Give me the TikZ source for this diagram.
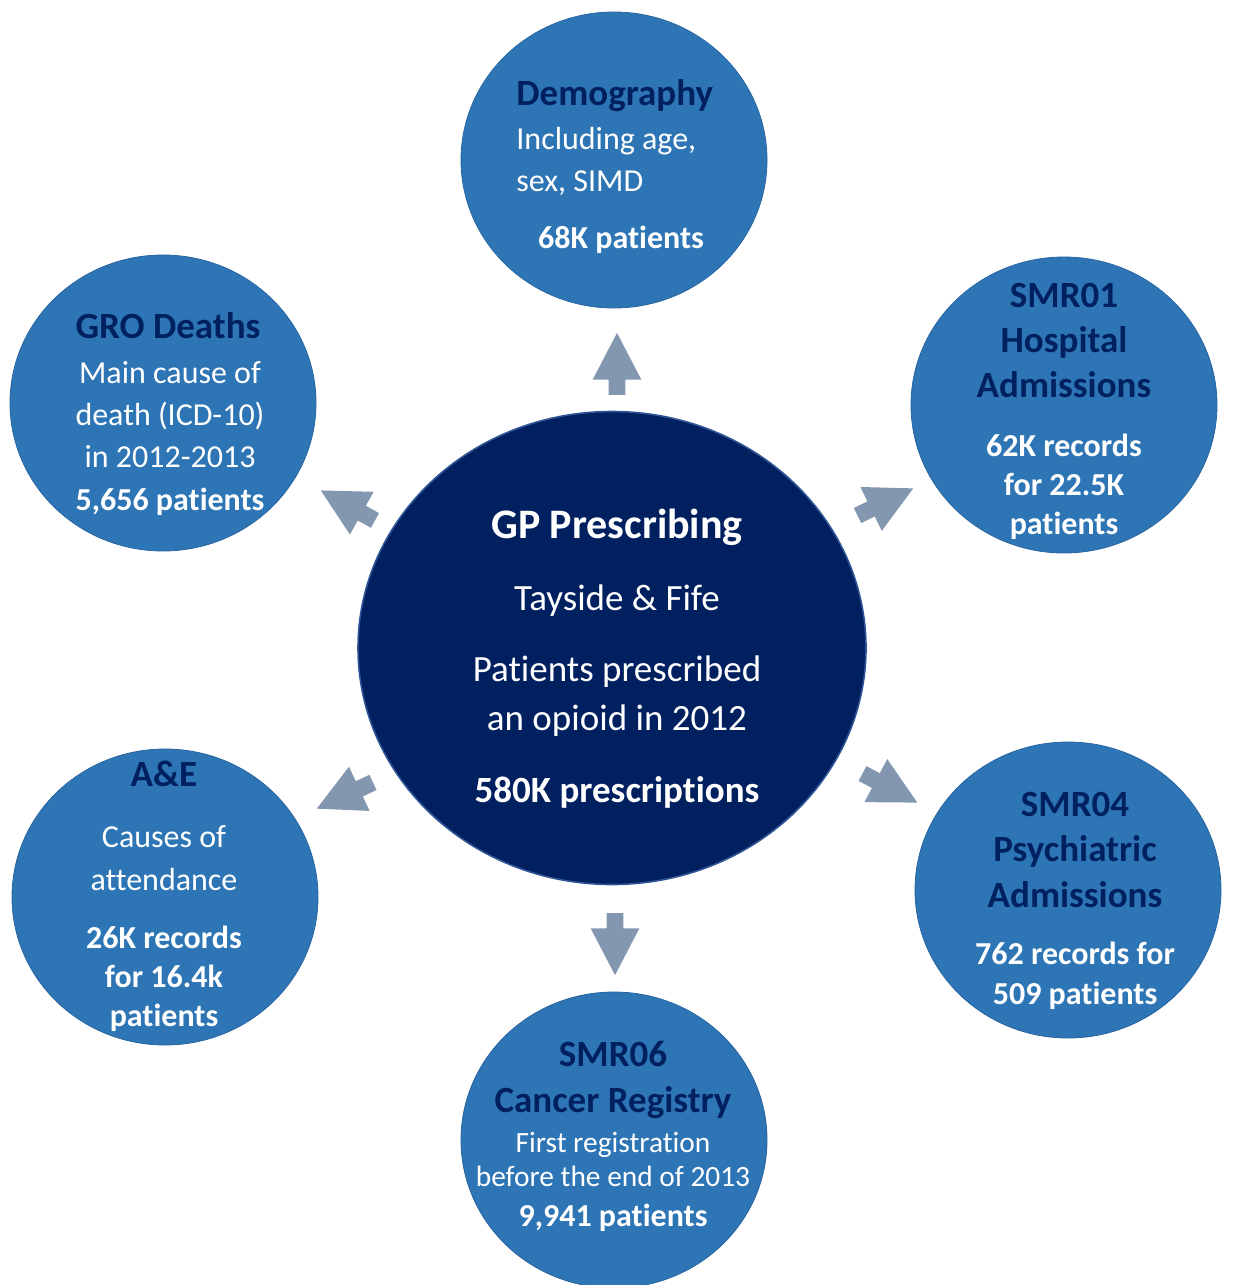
\documentclass[tikz,border=0pt]{standalone}
\usepackage{fontspec}
\setmainfont[Ligatures=NoCommon]{Carlito}
\usetikzlibrary{shapes.geometric,shapes.arrows}

\definecolor{srcblue}{RGB}{46,117,182}
\definecolor{srcedge}{RGB}{40,100,160}
\definecolor{hubnavy}{RGB}{0,32,96}
\definecolor{hubedge}{RGB}{47,85,151}
\definecolor{arrgrey}{RGB}{132,151,176}

\begin{document}
\begin{tikzpicture}[x=0.5pt, y=-0.5pt
        , src/.style={ellipse, fill=srcblue, draw=srcedge, line width=.4pt,
                      minimum width=153pt, minimum height=148pt, inner sep=0}
        , hub/.style={ellipse, fill=hubnavy, draw=hubedge, line width=.8pt,
                      minimum width=254pt, minimum height=236.5pt, inner sep=0}
        , ttl/.style={inner sep=0, text=hubnavy, align=center,
                      font=\bfseries\fontsize{18.5}{22.5}\selectfont}
        , txt/.style={inner sep=0, text=white, align=center,
                      font=\fontsize{16}{21}\selectfont}
        , num/.style={inner sep=0, text=white, align=center,
                      font=\bfseries\fontsize{16}{19.5}\selectfont}
        , blk/.style={single arrow, fill=arrgrey, draw=none, anchor=tip,
                      inner xsep=0, inner ysep=4pt, text height=0pt, text depth=0pt,
                      minimum height=31pt, minimum width=24pt,
                      single arrow head extend=8pt, single arrow tip angle=55}
        ]
        \useasboundingbox (0,0) rectangle (1232,1285);

        % data sources round the hub
        \node[src] (demo)  at (614,160)  {};
        \node[src] (gro)   at (163,403)  {};
        \node[src] (smr01) at (1064,405) {};
        \node[src] (ae)    at (165,897)  {};
        \node[src] (smr04) at (1068,890) {};
        \node[src] (smr06) at (614,1140) {};
        \node[hub] (gp)    at (612,648)  {};

        % block arrows from the hub (placed by their tips)
        \node[blk, rotate=90]  (a-demo)  at (617,332)   {};
        \node[blk, rotate=151] (a-gro)   at (320,490)   {};
        \node[blk, rotate=26]  (a-smr01) at (914,488)   {};
        \node[blk, rotate=205] (a-ae)    at (316,809)   {};
        \node[blk, rotate=-28] (a-smr04) at (918,803)   {};
        \node[blk, rotate=-90] (a-smr06) at (615,976)   {};

        % hub text
        \node[inner sep=0, text=white, font=\bfseries\fontsize{21}{25}\selectfont,
              anchor=base] (gp-t) at (617,538) {GP Prescribing};
        \node[inner sep=0, text=white, font=\fontsize{18.5}{24}\selectfont,
              anchor=base] (gp-a) at (617,610) {Tayside \& Fife};
        \node[inner sep=0, text=white, align=center,
              font=\fontsize{18.5}{24.5}\selectfont,
              anchor=base] (gp-b) at (617,730) {Patients prescribed\\an opioid in 2012};
        \node[inner sep=0, text=white, font=\bfseries\fontsize{18.5}{24}\selectfont,
              anchor=base] (gp-n) at (617,802) {580K prescriptions};

        % Demography
        \node[ttl, anchor=base west] (demo-t) at (516,105) {Demography};
        \node[txt, align=left, anchor=base west] (demo-b) at (516,191)
            {Including age,\\sex, SIMD};
        \node[num, anchor=base] (demo-n) at (621,248) {68K patients};

        % GRO Deaths
        \node[ttl, anchor=base] (gro-t) at (168,338) {GRO Deaths};
        \node[txt, anchor=base] (gro-b) at (170,467)
            {Main cause of\\death (ICD-10)\\in 2012-2013};
        \node[num, anchor=base] (gro-n) at (170,510) {5,656 patients};

        % SMR01
        \node[ttl, anchor=base] (smr01-t) at (1064,397) {SMR01\\Hospital\\Admissions};
        \node[num, anchor=base] (smr01-n) at (1064,534) {62K records\\for 22.5K\\patients};

        % A&E
        \node[ttl, anchor=base] (ae-t) at (164,786) {A\&E};
        \node[txt, anchor=base, font=\fontsize{16}{21.5}\selectfont] (ae-b) at (164,890)
            {Causes of\\attendance};
        \node[num, anchor=base] (ae-n) at (164,1026) {26K records\\for 16.4k\\patients};

        % SMR04
        \node[ttl, anchor=base, font=\bfseries\fontsize{18.5}{22.75}\selectfont]
            (smr04-t) at (1075,907) {SMR04\\Psychiatric\\Admissions};
        \node[num, anchor=base, font=\bfseries\fontsize{16}{20}\selectfont]
            (smr04-n) at (1075,1004) {762 records for\\509 patients};

        % SMR06
        \node[ttl, anchor=base, font=\bfseries\fontsize{18.5}{23}\selectfont]
            (smr06-t) at (613,1112) {SMR06\\Cancer Registry};
        \node[txt, anchor=base, font=\fontsize{14.7}{17}\selectfont]
            (smr06-b) at (613,1186) {First registration\\before the end of 2013};
        \node[num, anchor=base] (smr06-n) at (613,1226) {9,941 patients};

    \end{tikzpicture}
\end{document}
